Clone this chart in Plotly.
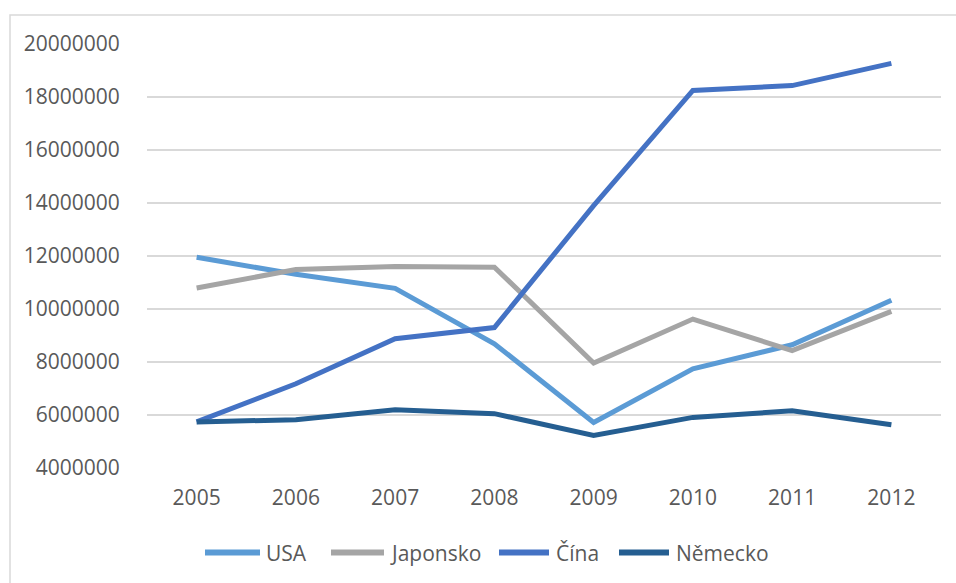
import plotly.graph_objects as go

# Yearly values per country
years = ["2005", "2006", "2007", "2008", "2009", "2010", "2011", "2012"]
usa = [11950000, 11310000, 10780000, 8690000, 5720000, 7740000, 8650000, 10330000]
japonsko = [10790000, 11490000, 11600000, 11580000, 7960000, 9620000, 8430000, 9910000]
cina = [5740000, 7180000, 8880000, 9300000, 13900000, 18250000, 18430000, 19270000]
nemecko = [5740000, 5820000, 6200000, 6050000, 5230000, 5910000, 6160000, 5630000]

y_ticks = [4000000, 6000000, 8000000, 10000000, 12000000, 14000000, 16000000, 18000000, 20000000]

series = [
    ("USA", usa, "#5B9BD5"),
    ("Japonsko", japonsko, "#A5A5A5"),
    ("Čína", cina, "#4472C4"),
    ("Německo", nemecko, "#255E91"),
]

W, H = 956, 583
L, R, T, B = 147, 15, 44, 115
pw, ph = W - L - R, H - T - B

def px_x(x):
    return (x - L) / pw

def px_y(y):
    return (H - B - y) / ph

FONT = "Open Sans"
TXT = "#595959"
FS = 21

fig = go.Figure()
for name, vals, col in series:
    fig.add_trace(go.Scatter(
        x=years, y=vals, mode="lines", name=name,
        line=dict(color=col, width=5),
        showlegend=False,
    ))

shapes = [
    # chart frame
    dict(type="rect", xref="paper", yref="paper",
         x0=px_x(10), x1=px_x(1200), y0=px_y(800), y1=px_y(15),
         line=dict(color="#D9D9D9", width=1.5), fillcolor="rgba(0,0,0,0)", layer="below"),
]
annotations = []

# legend entries along the bottom
legend_pos = [(205, 260, 264), (331, 384, 388), (499, 549, 554), (619, 669, 674)]
ly = 552.5
for (name, _, col), (x0, x1, tx) in zip(series, legend_pos):
    shapes.append(dict(type="line", xref="paper", yref="paper",
                       x0=px_x(x0), x1=px_x(x1), y0=px_y(ly), y1=px_y(ly),
                       line=dict(color=col, width=6)))
    annotations.append(dict(xref="paper", yref="paper", x=px_x(tx), y=px_y(ly),
                            text=name, showarrow=False, xanchor="left", yanchor="middle",
                            font=dict(family=FONT, size=FS, color=TXT)))

fig.update_layout(
    width=W, height=H,
    margin=dict(l=L, r=R, t=T, b=B, autoexpand=False),
    paper_bgcolor="white", plot_bgcolor="white",
    shapes=shapes, annotations=annotations,
    showlegend=False,
    xaxis=dict(
        type="category", range=[-0.5, len(years) - 0.5],
        showgrid=False, zeroline=False, showline=False,
        tickfont=dict(family=FONT, size=FS, color=TXT),
        ticks="outside", ticklen=11, tickcolor="rgba(0,0,0,0)",
    ),
    yaxis=dict(
        range=[4000000, 20000000], tickvals=y_ticks,
        ticktext=[str(v) for v in y_ticks],
        showgrid=True, gridcolor="#D9D9D9", gridwidth=1.5,
        zeroline=False, showline=False,
        tickfont=dict(family=FONT, size=FS, color=TXT),
        ticks="outside", ticklen=22, tickcolor="rgba(0,0,0,0)",
    ),
)

fig.write_html("out.html")
